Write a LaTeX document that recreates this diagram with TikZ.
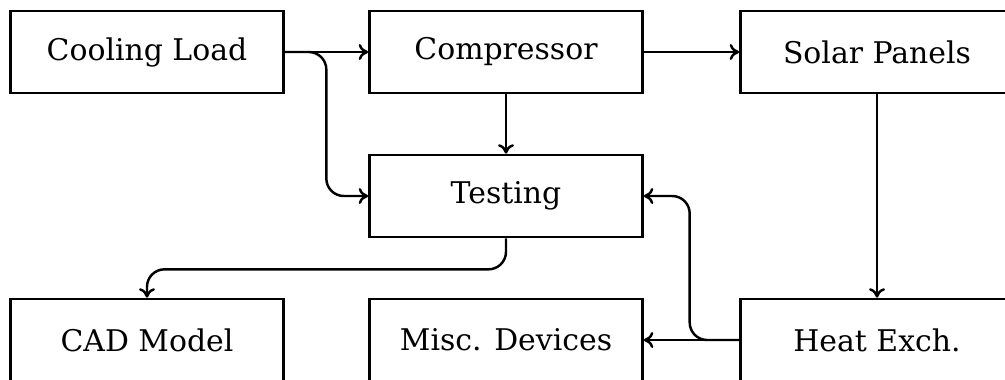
\documentclass[tikz,border=0pt]{standalone}
\usepackage{fontspec}
\setmainfont{DejaVu Serif}
\usetikzlibrary{positioning,arrows.meta}

\tikzset{
    block/.style={draw=black, line width=1.5pt, minimum width=5.46cm, minimum height=1.64cm,
        inner sep=0pt, font=\fontsize{17}{20}\selectfont},
    link/.style={-{To[length=1.9mm,width=3.2mm]}, line width=1.4pt, rounded corners=0.35cm}
}

\begin{document}
\begin{tikzpicture}
    \useasboundingbox (0,0) rectangle (20.1,-7.58);

    % Top row
    \node[block] (cool) at (2.94,-1.04) {Cooling Load};
    \node[block] (comp) at (10.12,-1.04) {Compressor};
    \node[block] (solar) at (17.54,-1.04) {Solar Panels};

    % Middle
    \node[block] (test) at (10.12,-3.92) {Testing};

    % Bottom row
    \node[block] (cad) at (2.94,-6.8) {CAD Model};
    \node[block] (misc) at (10.12,-6.8) {Misc. Devices};
    \node[block] (heat) at (17.54,-6.8) {Heat Exch.};

    % Connections
    \draw[link] (cool.east) -- (comp.west);
    \draw[link] (cool.east) -- ++(0.83,0) |- (test.west);
    \draw[link] (comp.east) -- (solar.west);
    \draw[link] (comp.south) -- (test.north);
    \draw[link] (test.south) -- ++(0,-0.62) -| (cad.north);
    \draw[link] (solar.south) -- (heat.north);
    \draw[link] (heat.west) -- (misc.east);
    \draw[link] (heat.west) -- ++(-0.99,0) |- (test.east);
\end{tikzpicture}
\end{document}
